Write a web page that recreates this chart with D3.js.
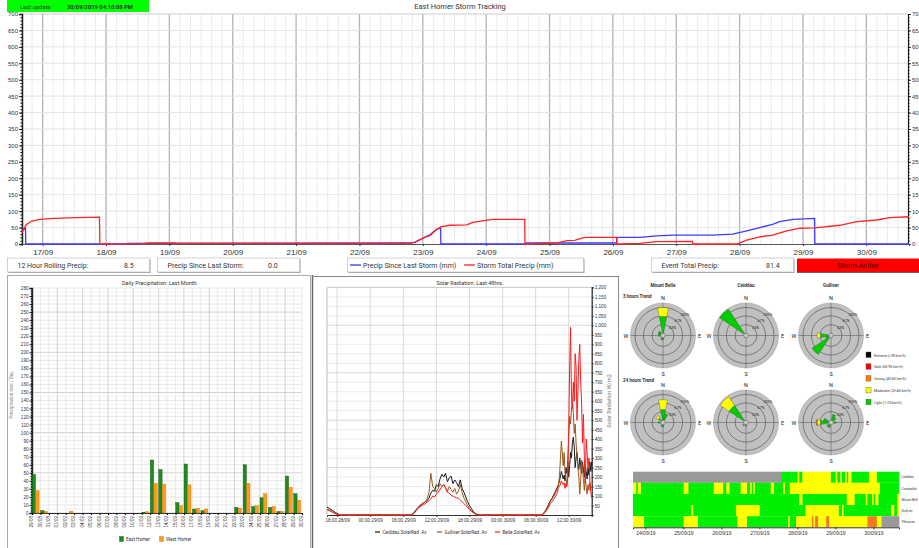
<!DOCTYPE html>
<html>
<head>
<meta charset="utf-8">
<script src="https://cdn.jsdelivr.net/npm/d3@7"></script>
<style>
  body { margin: 0; background: #fff; }
  svg { font-family: Roboto, "Liberation Sans", Arial, sans-serif; }
  svg text { fill: #333; }
</style>
</head>
<body>
<svg id="chart" width="919" height="548"></svg>
<script>
// ---------- data ----------
var lastUpdate = "30/09/2019 04:10:08 PM";

// storm tracking (time, mm)
var stormSinceLast = [
  ["16/09 16:10", 38], ["16/09 17:00", 45], ["16/09 17:30", 48], ["16/09 17:35", 0],
  ["18/09 08:00", 0], ["18/09 08:10", 2], ["22/09 19:00", 3], ["22/09 21:00", 6],
  ["22/09 23:10", 14], ["23/09 00:40", 20], ["23/09 02:40", 28], ["23/09 05:20", 45],
  ["23/09 06:45", 48], ["23/09 06:50", 0], ["24/09 14:40", 0], ["24/09 15:00", 3],
  ["26/09 01:28", 3], ["26/09 01:30", 20], ["26/09 10:10", 20], ["26/09 16:40", 25],
  ["26/09 22:40", 27], ["27/09 13:50", 27], ["27/09 21:20", 30], ["28/09 02:40", 40],
  ["28/09 07:40", 50], ["28/09 12:30", 60], ["28/09 15:10", 68], ["28/09 20:10", 75],
  ["29/09 04:25", 78], ["29/09 04:30", 0], ["30/09 16:10", 0]
];
var stormTotal = [
  ["16/09 16:10", 35], ["16/09 17:30", 55], ["16/09 18:00", 60], ["16/09 19:50", 70],
  ["16/09 22:50", 75], ["17/09 04:30", 78], ["17/09 12:50", 80], ["17/09 21:30", 82],
  ["17/09 21:40", 0], ["18/09 14:00", 1], ["18/09 16:00", 3], ["19/09 02:00", 3],
  ["19/09 03:00", 2], ["22/09 19:00", 2], ["22/09 21:00", 5], ["22/09 23:10", 14],
  ["23/09 00:40", 20], ["23/09 02:40", 25], ["23/09 05:20", 45], ["23/09 06:50", 52],
  ["23/09 10:10", 57], ["23/09 16:40", 58], ["23/09 18:55", 66], ["24/09 02:30", 75],
  ["24/09 14:36", 75], ["24/09 14:40", 0], ["25/09 02:40", 3], ["25/09 06:30", 10],
  ["25/09 09:30", 11], ["25/09 13:20", 20], ["26/09 01:28", 20], ["26/09 01:30", 0],
  ["26/09 10:10", 2], ["26/09 16:40", 7], ["27/09 06:10", 8], ["27/09 06:15", 0],
  ["27/09 22:55", 0], ["28/09 02:40", 12], ["28/09 07:40", 22], ["28/09 12:30", 27],
  ["28/09 17:50", 40], ["28/09 22:50", 48], ["29/09 04:30", 49], ["29/09 13:56", 57],
  ["29/09 20:24", 68], ["30/09 03:58", 73], ["30/09 08:53", 80], ["30/09 16:10", 83]
];
var rollingPrecip = "8.5";
var sinceLastStorm = "0.0";
var eventTotal = "81.4";

// daily precipitation, last month (one bar pair per day)
var dailyDates = ["29/08","30/08","31/08","01/09","02/09","03/09","04/09","05/09","06/09","07/09","08/09",
  "09/09","10/09","11/09","12/09","13/09","14/09","15/09","16/09","17/09","18/09","19/09","20/09","21/09",
  "22/09","23/09","24/09","25/09","26/09","27/09","28/09","29/09"];
var eastHomer = [48,3,0,0,0,0,0,0,0,0,0,0,0,1,66,54,0,13,61,5,3,0,0,0,7,60,8,19,7,2,46,24];
var westHomer = [28,2,0,0,2,0,0,0,0,0,0,0,0,1.5,37,36,0,9,35,6,5,0,0,0,6,37,9,24,8,2,32,16];

// solar radiation, last 48 hrs (W/m2)
var solarTimes = [
  "28/09 16:10","28/09 16:40","28/09 17:10","28/09 17:40","28/09 18:10","28/09 18:40",
  "29/09 07:20","29/09 07:40","29/09 08:00","29/09 08:20","29/09 08:40","29/09 09:00","29/09 09:20",
  "29/09 09:40","29/09 10:00","29/09 10:20","29/09 10:40","29/09 11:00","29/09 11:20","29/09 11:40",
  "29/09 12:00","29/09 12:20","29/09 12:40","29/09 13:00","29/09 13:20","29/09 13:40","29/09 14:00",
  "29/09 14:20","29/09 14:40","29/09 15:00","29/09 15:20","29/09 15:40","29/09 16:00","29/09 16:20",
  "29/09 16:40","29/09 17:00","29/09 17:20","29/09 17:40","29/09 18:00","29/09 18:20","29/09 18:40",
  "29/09 19:00","29/09 19:20","29/09 19:40","29/09 20:00",
  "30/09 07:00","30/09 07:20","30/09 07:40","30/09 08:00","30/09 08:20","30/09 08:40","30/09 09:00",
  "30/09 09:20","30/09 09:40","30/09 10:00","30/09 10:20","30/09 10:40","30/09 11:00",
  "30/09 11:10","30/09 11:20","30/09 11:30","30/09 11:40","30/09 11:50","30/09 12:00","30/09 12:10",
  "30/09 12:20","30/09 12:30","30/09 12:40","30/09 12:50","30/09 13:00","30/09 13:10","30/09 13:20",
  "30/09 13:30","30/09 13:40","30/09 13:50","30/09 14:00","30/09 14:10","30/09 14:20","30/09 14:30",
  "30/09 14:40","30/09 14:50","30/09 15:00","30/09 15:10","30/09 15:20","30/09 15:30","30/09 15:40",
  "30/09 15:50","30/09 16:00","30/09 16:10"
];
var solarCeiddau = [42,33,24,14,5,0,
  0,5,15,28,40,48,55,62,70,75,90,115,130,125,160,150,190,215,200,220,175,195,205,165,185,170,150,185,140,120,95,70,50,35,20,10,4,1,0,
  0,5,18,35,55,75,90,110,130,150,180,230,190,
  210,180,250,220,280,200,260,330,300,380,410,360,250,300,330,270,240,300,260,220,280,240,200,260,230,190,250,210,280,230,280];
var solarGulliver = [30,26,17,9,3,0,
  0,4,12,25,38,50,60,65,70,85,120,220,150,140,120,140,165,150,160,145,125,150,135,120,140,110,125,160,120,90,70,50,35,25,15,8,3,1,0,
  0,3,12,25,40,60,70,85,100,120,210,390,260,
  330,220,190,160,300,420,520,480,560,600,540,430,480,380,300,250,200,110,180,290,240,184,130,200,150,110,160,130,170,140,150];
var solarBelle = [28,22,14,7,2,0,
  0,3,10,22,35,42,50,55,60,68,75,85,100,95,110,120,135,150,160,140,120,115,105,100,95,90,88,80,70,60,50,40,30,20,12,6,2,0,0,
  0,4,15,30,50,70,85,100,120,140,150,180,160,
  170,140,165,150,200,450,780,990,620,560,700,600,850,780,500,650,820,900,700,600,380,530,300,170,400,330,250,300,180,120,90];

// wind roses: [direction, light, moderate, strong] as % frequency
var roseBelle3h = [["N",65,35,0],["NW",12,0,0],["WNW",10,0,0],["W",8,0,0],["SSW",7,0,0],["S",6,0,0]];
var roseCeiddau3h = [["NW",115,0,0]];
var roseGulliver3h = [["W",32,13,0],["WSW",12,0,0],["SW",80,0,0]];
var roseBelle24h = [["N",41,39,0],["NNE",25,0,0],["NW",12,11,0],["W",8,0,0],["S",8,0,0],["SSW",6,0,0]];
var roseCeiddau24h = [["NW",70,42,0],["S",5,0,0],["SW",6,0,0]];
var roseGulliver24h = [["W",32,13,3],["WNW",20,0,0],["NNE",23,0,0],["NE",14,0,0],["E",10,0,0],["SSW",12,0,0],["SW",10,0,0]];
var speedClasses = ["Light (1-20 km/h)","Moderate (20-40 km/h)","Strong (40-60 km/h)","Gale (60-90 km/h)","Extreme (>90 km/h)"];

// wind history, 7 days, runs of [class, hours]  G light, Y moderate, O strong, X no data
var stations = ["Ceiddau","Constable","Mount Bell","Gulliver","Ythrouse"];
var windRuns = [
  [["X",94],["G",10],["Y",1],["G",2],["Y",18],["G",3],["Y",1],["G",2],["Y",1],["G",2],["Y",1],["G",1],["Y",2],["G",11],["Y",5],["G",14]],
  [["Y",2],["G",1],["Y",2],["G",27],["Y",3],["G",16],["Y",6],["G",2],["Y",2],["G",7],["Y",4],["G",2],["Y",1],["G",1],["Y",1],["G",10],["Y",2],["G",6],["Y",1],["G",3],["Y",57],["G",12]],
  [["G",105],["Y",2],["G",28],["Y",5],["G",7],["Y",1],["G",3],["Y",1],["G",1],["Y",2],["G",12],["Y",1]],
  [["G",37],["Y",1],["G",27],["Y",15],["G",29],["Y",21],["G",2],["Y",1],["G",30],["Y",2],["G",2],["Y",1]],
  [["Y",7],["G",25],["Y",9],["G",25],["Y",6],["G",26],["Y",1],["G",4],["Y",10],["O",1],["Y",1],["O",2],["Y",5],["O",2],["Y",24],["O",6],["Y",3],["X",11]]
];

// ---------- helpers ----------
var parseT = d3.timeParse("%d/%m/%Y %H:%M");
function t(s) { return parseT(s.replace(" ", "/2019 ")); }
var svg = d3.select("#chart");

function styleAxis(g, size) {
  g.selectAll("text").attr("font-size", size).attr("fill", "#444");
  g.selectAll(".tick line").attr("stroke", "#333");
}

// ---------- header ----------
svg.append("rect").attr("x", 7).attr("y", 0).attr("width", 142).attr("height", 12).attr("fill", "#00ff00");
svg.append("text").attr("x", 20).attr("y", 8.5).attr("font-size", 5.8).text("Last update:");
svg.append("text").attr("x", 67).attr("y", 8.5).attr("font-size", 5.8).attr("font-weight", "bold").text(lastUpdate);
svg.append("text").attr("x", 460).attr("y", 9).attr("text-anchor", "middle").attr("font-size", 7.5).text("East Homer Storm Tracking");

// ---------- storm tracking chart ----------
var tx = d3.scaleTime().domain([t("16/09 16:10"), t("30/09 16:10")]).range([22, 909]);
var ty = d3.scaleLinear().domain([0, 700]).range([244, 14]);
var gTop = svg.append("g");

gTop.selectAll(".vgrid").data(tx.ticks(d3.timeHour.every(4))).enter().append("line")
  .attr("x1", function(d) { return tx(d); }).attr("x2", function(d) { return tx(d); })
  .attr("y1", 14).attr("y2", 244)
  .attr("stroke", function(d) { return d.getHours() === 0 ? "#b4b4b4" : "#e6e6e6"; })
  .attr("stroke-width", function(d) { return d.getHours() === 0 ? 1.3 : 0.8; });
gTop.selectAll(".hgrid").data(d3.range(50, 701, 50)).enter().append("line")
  .attr("x1", 22).attr("x2", 908).attr("y1", function(d) { return ty(d); }).attr("y2", function(d) { return ty(d); })
  .attr("stroke", function(d) { return d === 700 ? "#c8c8c8" : "#e2e2e2"; }).attr("stroke-width", 0.9);

var yl = gTop.append("g").attr("transform", "translate(22,0)")
  .call(d3.axisLeft(ty).tickValues(d3.range(0, 701, 50)).tickSize(3).tickPadding(1));
styleAxis(yl, 6);
yl.select(".domain").attr("stroke", "#222").attr("stroke-width", 1.5);
gTop.append("g").attr("transform", "translate(22,0)")
  .call(d3.axisLeft(ty).tickValues(d3.range(0, 701, 10)).tickSize(1.5).tickFormat(""))
  .select(".domain").remove();
var yr = gTop.append("g").attr("transform", "translate(908,0)")
  .call(d3.axisRight(ty).tickValues(d3.range(0, 701, 50)).tickSize(3).tickPadding(1));
styleAxis(yr, 6);
yr.select(".domain").attr("stroke", "#222").attr("stroke-width", 1.2);
gTop.append("g").attr("transform", "translate(908,0)")
  .call(d3.axisRight(ty).tickValues(d3.range(0, 701, 10)).tickSize(1.5).tickFormat(""))
  .select(".domain").remove();
var xb = gTop.append("g").attr("transform", "translate(0,244)")
  .call(d3.axisBottom(tx).ticks(d3.timeDay.every(1)).tickSize(2).tickFormat(d3.timeFormat("%d/%m")));
styleAxis(xb, 8);
xb.selectAll("text").attr("dy", "0.8em");
xb.select(".domain").attr("stroke", "#555");

var stormLine = d3.line().x(function(d) { return tx(t(d[0])); }).y(function(d) { return ty(d[1]); });
gTop.append("path").datum(stormSinceLast).attr("d", stormLine).attr("fill", "none").attr("stroke", "#3b3bff").attr("stroke-width", 1.3);
gTop.append("path").datum(stormTotal).attr("d", stormLine).attr("fill", "none").attr("stroke", "#ff2424").attr("stroke-width", 1.3);

// info boxes
function infoBox(x, w, label, value, vx) {
  var g = svg.append("g");
  g.append("rect").attr("x", x + 1).attr("y", 259).attr("width", w).attr("height", 14).attr("fill", "#999");
  g.append("rect").attr("x", x).attr("y", 258).attr("width", w).attr("height", 14).attr("fill", "#fff").attr("stroke", "#c8c8c8").attr("stroke-width", 0.8);
  if (label) g.append("text").attr("x", x + 10).attr("y", 267.5).attr("font-size", 7).text(label);
  if (value) g.append("text").attr("x", vx).attr("y", 267.5).attr("font-size", 7).text(value);
  return g;
}
infoBox(7.5, 142, "12 Hour Rolling Precip:", rollingPrecip, 124);
infoBox(157.5, 142, "Precip Since Last Storm:", sinceLastStorm, 268);
var lg = infoBox(347.5, 236, "", "", 0);
lg.append("line").attr("x1", 350).attr("x2", 361).attr("y1", 265).attr("y2", 265).attr("stroke", "#3b3bff").attr("stroke-width", 1.3);
lg.append("text").attr("x", 363).attr("y", 267.5).attr("font-size", 7).text("Precip Since Last Storm (mm)");
lg.append("line").attr("x1", 464).attr("x2", 475).attr("y1", 265).attr("y2", 265).attr("stroke", "#ff2424").attr("stroke-width", 1.3);
lg.append("text").attr("x", 477).attr("y", 267.5).attr("font-size", 7).text("Storm Total Precip (mm)");
infoBox(651.5, 142, "Event Total Precip:", eventTotal, 766);
svg.append("rect").attr("x", 797).attr("y", 271.5).attr("width", 122).attr("height", 1.5).attr("fill", "#666");
svg.append("rect").attr("x", 797).attr("y", 258.5).attr("width", 122).attr("height", 13.5).attr("fill", "#ff0000");
svg.append("text").attr("x", 858).attr("y", 267.8).attr("text-anchor", "middle").attr("font-size", 7.2)
  .style("fill", "#3a0000").text("Storm Active");

// ---------- panel frames ----------
svg.append("rect").attr("x", 7.5).attr("y", 275.5).attr("width", 303).attr("height", 290).attr("fill", "none").attr("stroke", "#aaa");
svg.append("line").attr("x1", 312.5).attr("x2", 312.5).attr("y1", 275).attr("y2", 548).attr("stroke", "#666").attr("stroke-width", 1.5);
svg.append("line").attr("x1", 312).attr("x2", 618).attr("y1", 276.5).attr("y2", 276.5).attr("stroke", "#888");
svg.append("line").attr("x1", 618.5).attr("x2", 618.5).attr("y1", 276).attr("y2", 548).attr("stroke", "#888");

// ---------- daily precipitation ----------
// time axis from first day to the day after the last bar; each bar pair sits inside its day
var bx = d3.scaleTime().domain([t(dailyDates[0] + " 00:00"), d3.timeDay.offset(t(dailyDates[dailyDates.length - 1] + " 00:00"), 1)]).range([32, 302]);
var dayW = bx(t("30/08 00:00")) - bx(t("29/08 00:00"));
var bsub = d3.scaleBand().domain(["East Homer", "West Homer"]).range([0.2, dayW * 0.84]).paddingInner(0.06);
var by = d3.scaleLinear().domain([0, 280]).range([513, 288]);
var gB = svg.append("g");
svg.append("text").attr("x", 160).attr("y", 285).attr("text-anchor", "middle").attr("font-size", 5.5).text("Daily Precipitation. Last Month.");
gB.selectAll(".bh").data(d3.range(0, 281, 5)).enter().append("line")
  .attr("x1", 32).attr("x2", 302).attr("y1", function(d) { return by(d); }).attr("y2", function(d) { return by(d); })
  .attr("stroke", function(d) { return d % 50 === 0 ? "#c4c4c4" : (d % 10 === 0 ? "#e0e0e0" : "#f0f0f0"); }).attr("stroke-width", 0.8);
var dayTicks = bx.ticks(d3.timeDay.every(1));
gB.selectAll(".bv").data(dayTicks).enter().append("line")
  .attr("x1", function(d) { return bx(d); }).attr("x2", function(d) { return bx(d); })
  .attr("y1", 288).attr("y2", 513)
  .attr("stroke", function(d, i) { return i % 3 === 0 ? "#c8c8c8" : "#e6e6e6"; }).attr("stroke-width", 0.8);
var byAx = gB.append("g").attr("transform", "translate(32,0)")
  .call(d3.axisLeft(by).tickValues(d3.range(0, 281, 10)).tickSize(2.5).tickPadding(1));
styleAxis(byAx, 4.6);
byAx.select(".domain").attr("stroke", "#222").attr("stroke-width", 1.4);
gB.append("g").attr("transform", "translate(32,0)")
  .call(d3.axisLeft(by).tickValues(d3.range(0, 281, 2)).tickSize(1.2).tickFormat("")).select(".domain").remove();
var bxAx = gB.append("g").attr("transform", "translate(0,513)")
  .call(d3.axisBottom(bx).tickValues(dayTicks).tickSize(2).tickPadding(1).tickFormat(d3.timeFormat("%d/%m")));
bxAx.select(".domain").attr("stroke", "#333").attr("stroke-width", 1.2);
bxAx.selectAll("text").attr("font-size", 4.6).attr("fill", "#444")
  .attr("transform", "rotate(-90)").attr("text-anchor", "end").attr("x", -3).attr("y", -1).attr("dy", "0.35em");
var homerSeries = [{ name: "East Homer", values: eastHomer, color: "#1f8a1f", edge: "#0e5a0e" },
                   { name: "West Homer", values: westHomer, color: "#ff9a1c", edge: "#d07000" }];
homerSeries.forEach(function(s) {
  gB.selectAll(".bar-" + s.name.replace(" ", "")).data(s.values).enter().append("rect")
    .attr("x", function(d, i) { return bx(t(dailyDates[i] + " 00:00")) + bsub(s.name); })
    .attr("y", function(d) { return by(d); })
    .attr("width", bsub.bandwidth())
    .attr("height", function(d) { return by(0) - by(d); })
    .attr("fill", s.color).attr("stroke", s.edge).attr("stroke-width", 0.4);
});
gB.append("text").attr("x", 13).attr("y", 395).attr("transform", "rotate(-90,13,395)").attr("text-anchor", "middle")
  .attr("font-size", 4.6).style("fill", "#888").text("Precipitation mm / Day");
homerSeries.forEach(function(s, i) {
  var lx = 119.5 + i * 40;
  gB.append("rect").attr("x", lx).attr("y", 536.5).attr("width", 4).attr("height", 5).attr("fill", s.color).attr("stroke", s.edge).attr("stroke-width", 0.4);
  gB.append("text").attr("x", lx + 6.5).attr("y", 541).attr("font-size", 4.6).text(s.name);
});

// ---------- solar radiation ----------
var sx = d3.scaleTime().domain([t("28/09 16:10"), t("30/09 16:10")]).range([327, 591.7]);
var sy = d3.scaleLinear().domain([0, 1200]).range([515, 287.4]);
var gS = svg.append("g");
svg.append("text").attr("x", 470).attr("y", 285).attr("text-anchor", "middle").attr("font-size", 5.5).text("Solar Radiation. Last 48hrs.");
gS.selectAll(".sh").data(d3.range(50, 1201, 50)).enter().append("line")
  .attr("x1", 327).attr("x2", 591.7).attr("y1", function(d) { return sy(d); }).attr("y2", function(d) { return sy(d); })
  .attr("stroke", function(d) { return d % 250 === 0 ? "#cfcfcf" : "#e6e6e6"; }).attr("stroke-width", 0.8);
gS.selectAll(".sv").data(sx.ticks(d3.timeHour.every(6))).enter().append("line")
  .attr("x1", function(d) { return sx(d); }).attr("x2", function(d) { return sx(d); })
  .attr("y1", 287.4).attr("y2", 515).attr("stroke", "#d4d4d4").attr("stroke-width", 0.9);
gS.append("line").attr("x1", 327).attr("x2", 327).attr("y1", 287.4).attr("y2", 515).attr("stroke", "#bbb");
gS.append("line").attr("x1", 327).attr("x2", 591.7).attr("y1", 287.4).attr("y2", 287.4).attr("stroke", "#ccc");
var syAx = gS.append("g").attr("transform", "translate(591.7,0)")
  .call(d3.axisRight(sy).tickValues(d3.range(50, 1201, 50)).tickSize(2).tickPadding(1).tickFormat(d3.format(",")));
styleAxis(syAx, 4.6);
syAx.select(".domain").attr("stroke", "#222").attr("stroke-width", 1.2);
var sxAx = gS.append("g").attr("transform", "translate(0,515)")
  .call(d3.axisBottom(sx).ticks(d3.timeHour.every(6)).tickSize(2).tickPadding(2).tickFormat(d3.timeFormat("%H:%M %d/%m")));
styleAxis(sxAx, 4.6);
sxAx.select(".domain").attr("stroke", "#333");
gS.append("text").attr("x", 611).attr("y", 401).attr("transform", "rotate(-90,611,401)").attr("text-anchor", "middle")
  .attr("font-size", 5.5).style("fill", "#777").text("Solar Radiation W/m2");
var solarSeries = [
  { name: "Ceiddau.SolarRad..Av", values: solarCeiddau, color: "#1a1a1a", lx: 375 },
  { name: "Gulliver.SolarRad..Av", values: solarGulliver, color: "#9a5a1c", lx: 437 },
  { name: "Belle.SolarRad..Av", values: solarBelle, color: "#ff1a1a", lx: 495 }
];
var solarLine = d3.line().x(function(d, i) { return sx(t(solarTimes[i])); }).y(function(d) { return sy(d); });
solarSeries.forEach(function(s) {
  gS.append("path").datum(s.values).attr("d", solarLine).attr("fill", "none").attr("stroke", s.color).attr("stroke-width", 1);
  gS.append("line").attr("x1", s.lx).attr("x2", s.lx + 5).attr("y1", 532).attr("y2", 532).attr("stroke", s.color).attr("stroke-width", 1.2);
  gS.append("text").attr("x", s.lx + 7.5).attr("y", 533.8).attr("font-size", 4.6).text(s.name);
});

// ---------- wind roses ----------
var dirNames = ["N","NNE","NE","ENE","E","ESE","SE","SSE","S","SSW","SW","WSW","W","WNW","NW","NNW"];
var speedColors = ["#00cc00", "#ffff00", "#ff8000", "#ff0000", "#000000"];
var rr = d3.scaleLinear().domain([0, 100]).range([2.5, 28]);
var gR = svg.append("g");
function drawRose(cx, cy, data) {
  var g = gR.append("g").attr("transform", "translate(" + cx + "," + cy + ")");
  g.append("circle").attr("r", 32.5).attr("fill", "#c0c0c0").attr("stroke", "#a8a8a8").attr("stroke-width", 0.6);
  [33, 67, 100].forEach(function(p) {
    g.append("circle").attr("r", rr(p)).attr("fill", "none").attr("stroke", "#333").attr("stroke-width", 0.5);
  });
  g.append("line").attr("x1", 0).attr("x2", 0).attr("y1", -32.5).attr("y2", 32.5).attr("stroke", "#555").attr("stroke-width", 0.5);
  g.append("line").attr("y1", 0).attr("y2", 0).attr("x1", -32.5).attr("x2", 32.5).attr("stroke", "#555").attr("stroke-width", 0.5);
  data.forEach(function(d) {
    var a = dirNames.indexOf(d[0]) * Math.PI / 8, cum = 0;
    for (var k = 1; k < d.length; k++) {
      if (!d[k]) continue;
      var arc = d3.arc().innerRadius(rr(cum)).outerRadius(rr(cum + d[k]))
        .startAngle(a - Math.PI / 16).endAngle(a + Math.PI / 16);
      g.append("path").attr("d", arc()).attr("fill", speedColors[k - 1]).attr("stroke", "#444").attr("stroke-width", 0.35);
      cum += d[k];
    }
  });
  g.append("circle").attr("r", 2.3).attr("fill", "#c8c8c8").attr("stroke", "#444").attr("stroke-width", 0.4);
  [33, 67, 100].forEach(function(p) {
    var r = rr(p), ang = 40 * Math.PI / 180;
    g.append("text").attr("x", r * Math.sin(ang) - 1).attr("y", -r * Math.cos(ang) + 1.5)
      .attr("font-size", 3.8).style("fill", "#222").text(p + "%");
  });
  [["N", 0, -35.5], ["S", 0, 40], ["W", -37, 2], ["E", 36.5, 2]].forEach(function(l) {
    g.append("text").attr("x", l[1]).attr("y", l[2]).attr("text-anchor", "middle").attr("font-size", 5.5).style("fill", "#222").text(l[0]);
  });
}
[["Mount Belle", 663], ["Ceiddau", 746], ["Gulliver", 831]].forEach(function(c) {
  gR.append("text").attr("x", c[1]).attr("y", 287).attr("text-anchor", "middle").attr("font-size", 4.6).attr("font-weight", "bold").text(c[0]);
});
gR.append("text").attr("x", 623).attr("y", 297.5).attr("font-size", 4.6).attr("font-weight", "bold").text("3 hours Trend");
gR.append("text").attr("x", 623).attr("y", 382).attr("font-size", 4.6).attr("font-weight", "bold").text("24 hours Trend");
drawRose(663, 335.5, roseBelle3h);
drawRose(746, 335.5, roseCeiddau3h);
drawRose(831, 335.5, roseGulliver3h);
drawRose(663, 422.5, roseBelle24h);
drawRose(746, 422.5, roseCeiddau24h);
drawRose(831, 422.5, roseGulliver24h);
speedClasses.slice().reverse().forEach(function(name, i) {
  var k = speedClasses.length - 1 - i;
  gR.append("rect").attr("x", 866).attr("y", 352 + i * 11.8).attr("width", 5).attr("height", 5.5)
    .attr("fill", speedColors[k]).attr("stroke", "#555").attr("stroke-width", 0.4);
  gR.append("text").attr("x", 874).attr("y", 356.5 + i * 11.8).attr("font-size", 3.6).text(name);
});

// ---------- wind history strips ----------
var runColors = { G: "#00ee00", Y: "#ffff00", O: "#f47a20", X: "#999999" };
var hx = d3.scaleTime().domain([t("23/09 16:10"), t("30/09 16:10")]).range([633, 899]);
var hy = d3.scaleBand().domain(stations).range([471.7, 527.3]);
var gH = svg.append("g");
stations.forEach(function(st, si) {
  var start = t("23/09 16:10"), cum = 0;
  windRuns[si].forEach(function(run) {
    var a = d3.timeHour.offset(start, cum), b = d3.timeHour.offset(start, cum + run[1]);
    gH.append("rect").attr("x", hx(a)).attr("y", hy(st)).attr("width", hx(b) - hx(a) + 0.3).attr("height", hy.bandwidth())
      .attr("fill", runColors[run[0]]);
    cum += run[1];
  });
  gH.append("text").attr("x", 901.5).attr("y", hy(st) + hy.bandwidth() / 2 + 1.2).attr("font-size", 3.4).text(st);
});
var hxAx = gH.append("g").attr("transform", "translate(0,527.3)")
  .call(d3.axisBottom(hx).ticks(d3.timeDay.every(1)).tickSize(2).tickPadding(2).tickFormat(d3.timeFormat("%d/%m/%y")));
styleAxis(hxAx, 5);
hxAx.select(".domain").attr("stroke", "#333");
</script>
</body>
</html>
